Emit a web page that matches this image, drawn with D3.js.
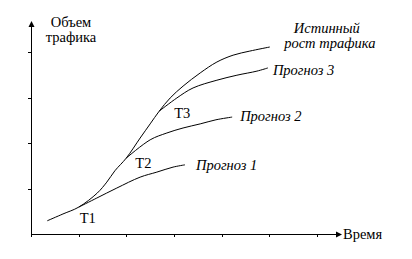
<!DOCTYPE html>
<html><head><meta charset="utf-8">
<script src="https://cdn.jsdelivr.net/npm/d3@7"></script>
<style>
html,body{margin:0;padding:0;background:#fff;}
svg{display:block;}
text{font-family:"Liberation Serif","DejaVu Serif",serif;font-size:14.5px;fill:#000;}
</style></head>
<body>
<svg id="chart" width="412" height="259"></svg>
<script>
// Data (time units, traffic units)
const xTicks = [0, 1, 2, 3, 4, 5, 6];
const yTicks = [0, 1, 2, 3, 4];
const trueX = [0.34, 0.67, 1.0, 1.39, 1.59, 1.76, 2.0, 2.29, 2.5, 2.69, 2.92, 3.19, 3.55, 3.9, 4.24, 4.59, 5.01];
const trueY = [0.29, 0.44, 0.59, 0.9, 1.14, 1.39, 1.67, 2.11, 2.42, 2.7, 2.99, 3.25, 3.54, 3.78, 3.93, 4.02, 4.11];
const f1X = [1.0, 1.38, 1.8, 2.29, 2.64, 2.98, 3.23];
const f1Y = [0.59, 0.79, 1.01, 1.25, 1.36, 1.47, 1.52];
const f2X = [2.0, 2.5, 2.85, 3.19, 3.55, 3.88, 4.22];
const f2Y = [1.67, 2.07, 2.22, 2.33, 2.42, 2.51, 2.57];
const f3X = [2.69, 3.06, 3.4, 3.9, 4.32, 4.74, 4.97];
const f3Y = [2.7, 2.99, 3.21, 3.38, 3.49, 3.58, 3.65];
const pointLabels = ["Т1", "Т2", "Т3"];
const seriesLabels = ["Прогноз 1", "Прогноз 2", "Прогноз 3"];
const trueLabel = ["Истинный", "рост трафика"];
const yTitle = ["Объем", "трафика"];
const xTitle = "Время";

const svg = d3.select("#chart");
const x = d3.scaleLinear().domain([0, 6]).range([31, 317]);
const y = d3.scaleLinear().domain([0, 4]).range([234, 52]);

const g = svg.append("g");
// Axes
const xAxis = d3.axisBottom(x).tickValues(xTicks).tickSize(3).tickFormat("");
const yAxis = d3.axisLeft(y).tickValues(yTicks.slice(1)).tickSize(3).tickFormat("");
g.append("g").attr("transform", "translate(0,234)").call(xAxis)
  .call(a => a.select(".domain").remove());
g.append("g").attr("transform", "translate(31,0)").call(yAxis)
  .call(a => a.select(".domain").remove());
g.selectAll(".tick line").attr("stroke", "#000").attr("shape-rendering", "crispEdges");

// axis lines with arrows
g.append("line").attr("x1", 31.5).attr("x2", 31.5).attr("y1", 25).attr("y2", 234.5)
  .attr("stroke", "#000").attr("shape-rendering", "crispEdges");
g.append("line").attr("x1", 31).attr("x2", 338).attr("y1", 234.5).attr("y2", 234.5)
  .attr("stroke", "#000").attr("shape-rendering", "crispEdges");
g.append("path").attr("d", "M31.5,21 L28.5,27 L34.5,27 Z").attr("fill", "#000");
g.append("path").attr("d", "M342,234.5 L336,231.5 L336,237.5 Z").attr("fill", "#000");

const line = d3.line().x(d => x(d[0])).y(d => y(d[1])).curve(d3.curveCatmullRom.alpha(0.5));
const series = [[trueX, trueY], [f1X, f1Y], [f2X, f2Y], [f3X, f3Y]];
series.forEach(([xs, ys]) => {
  g.append("path").datum(d3.zip(xs, ys)).attr("d", line)
    .attr("fill", "none").attr("stroke", "#000").attr("stroke-width", 1);
});

// Point labels at forecast starts
const starts = [[f1X[0], f1Y[0]], [f2X[0], f2Y[0]], [f3X[0], f3Y[0]]];
const plOff = [[1, 16], [9, 10], [15, 7]];
pointLabels.forEach((t, i) => {
  g.append("text").attr("x", x(starts[i][0]) + plOff[i][0]).attr("y", y(starts[i][1]) + plOff[i][1]).text(t);
});
// Series labels at ends
const ends = [[f1X, f1Y], [f2X, f2Y], [f3X, f3Y]];
const slOff = [[11, 5], [8, 4], [5, 7]];
seriesLabels.forEach((t, i) => {
  const xs = ends[i][0], ys = ends[i][1];
  g.append("text").attr("font-style", "italic")
    .attr("x", x(xs[xs.length - 1]) + slOff[i][0]).attr("y", y(ys[ys.length - 1]) + slOff[i][1]).text(t);
});
// True growth label
const tx = x(trueX[trueX.length - 1]), ty = y(trueY[trueY.length - 1]);
trueLabel.forEach((t, i) => {
  g.append("text").attr("font-style", "italic").attr("text-anchor", "middle")
    .attr("x", tx + 57 + i * 3).attr("y", ty - 14 + i * 15).text(t);
});
// Axis titles
yTitle.forEach((t, i) => {
  g.append("text").attr("text-anchor", "middle").attr("x", 71).attr("y", 27 + i * 15).text(t);
});
g.append("text").attr("x", 343).attr("y", 239).text(xTitle);
</script>
</body></html>
